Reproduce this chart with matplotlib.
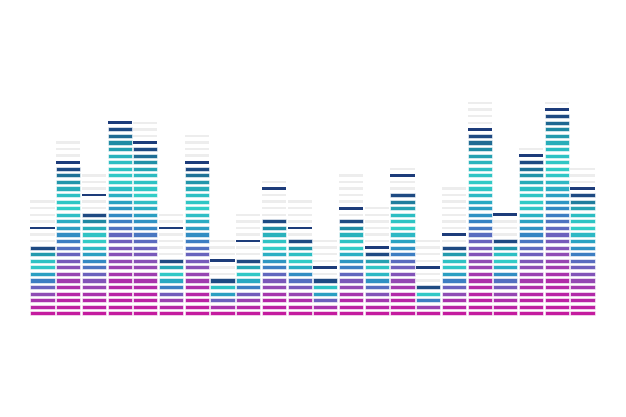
import numpy as np
import matplotlib.pyplot as plt
from matplotlib.colors import LinearSegmentedColormap

# equalizer columns: filled rows, peak marker row, highest grey row
fill = [11, 23, 16, 29, 26, 9, 23, 6, 9, 15, 12, 6, 15, 10, 19, 5, 11, 28, 12, 24, 31, 19]
peak = [13, 23, 18, 29, 26, 13, 23, 8, 11, 19, 13, 7, 16, 10, 21, 7, 12, 28, 15, 24, 31, 19]
top = [17, 26, 21, 29, 29, 15, 27, 11, 15, 20, 17, 11, 21, 16, 22, 11, 19, 32, 15, 25, 32, 22]

cmap = LinearSegmentedColormap.from_list('eq', [
    (0.0, '#c41c9f'), (0.16, '#b22aa8'), (0.3, '#8e4db5'), (0.42, '#6465be'),
    (0.52, '#3584c3'), (0.62, '#28a6c2'), (0.72, '#33cdc7'), (0.84, '#2cbcc2'),
    (0.93, '#1f8ba4'), (1.0, '#1e4a82')])

fig = plt.figure(figsize=(6.26, 4.17), dpi=100)
ax = fig.add_axes([0, 0, 1, 1])
ax.set_xlim(-1.653, 22.69)
ax.set_ylim(-15.78, 47.69)
ax.axis('off')

w = 0.94
for j in range(len(fill)):
    n = fill[j]
    rows = np.arange(n)
    cols = cmap(rows / max(n - 1, 1))
    ax.bar([j] * n, 0.62, bottom=rows - 0.31, width=w, color=cols,
           edgecolor='white', linewidth=0.4)
    grey = [r for r in range(n, top[j] + 1) if r != peak[j]]
    ax.bar([j] * len(grey), 0.38, bottom=np.array(grey) - 0.19, width=w, color='#ededed')
    if peak[j] >= n:
        ax.bar(j, 0.42, bottom=peak[j] - 0.21, width=w, color='#1d3c7a')

fig.savefig('out.png', dpi=100, facecolor='white')
